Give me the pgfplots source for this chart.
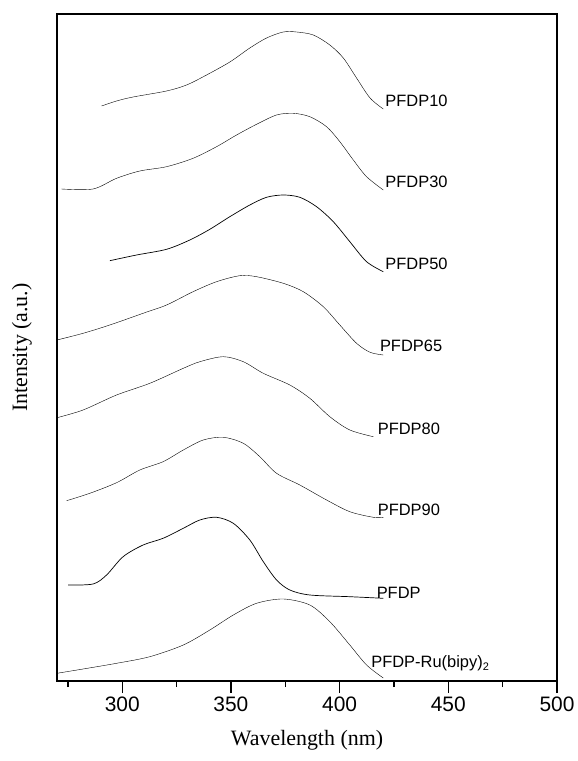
\documentclass[border=0pt]{standalone}
\usepackage{pgfplots}
\pgfplotsset{compat=1.18}
\usepackage{fontspec}
\setmainfont{Liberation Sans}
\newfontfamily\seriffont{Liberation Serif}
\tikzset{curvelabel/.style={anchor=base west, inner sep=0pt, font=\fontsize{16.5}{16.5}\selectfont}}
\begin{document}
\begin{tikzpicture}
\useasboundingbox (-57bp,-80bp) rectangle (521bp,681bp);
\begin{axis}[
  at={(0,0)}, anchor=south west,
  width=500bp, height=667bp, scale only axis,
  xmin=270, xmax=500, ymin=0, ymax=667,
  axis line style={line width=1.4bp},
  xtick={300,350,400,450,500},
  minor xtick={275,325,375,425,475},
  xtick pos=bottom, ytick=\empty,
  tick align=outside,
  major tick length=12bp, minor tick length=6bp,
  major tick style={line width=1.4bp, black},
  minor tick style={line width=1.4bp, black},
  /pgf/number format/assume math mode=true,
  xticklabel style={font=\fontsize{21}{21}\selectfont},
  xlabel={Wavelength (nm)}, ylabel={Intensity (a.u.)},
  xlabel style={font=\seriffont\fontsize{22}{22}\selectfont, at={(axis description cs:0.5,-0.0885)}, anchor=center},
  ylabel style={font=\seriffont\fontsize{22}{22}\selectfont, at={(axis description cs:-0.07,0.5)}, anchor=center},
  cycle list={{black,solid,line width=0.7bp,no marks}},
  every axis plot/.append style={smooth},
  clip=false,
]
% PFDP10
\addplot+[smooth] coordinates {(290.5,575) (297.4,580) (305.0,584) (320.4,590) (329.6,596) (338.8,606) (349.5,619) (358.7,633) (366.4,643) (374.1,649) (380.2,649) (387.9,646) (395.5,636) (401.7,623) (407.8,603) (414.0,583) (420.1,572)};
% PFDP30
\addplot+[smooth] coordinates {(272,492) (286.6,492) (297.4,502.7) (308.1,510) (320.4,514.3) (332.6,522.7) (343.4,534.3) (352.6,546) (361.8,556.7) (371.0,566) (378.7,567.7) (386.3,564.3) (394.0,554.3) (400.1,539.3) (406.3,521) (412.4,504.3) (420.1,491)};
% PFDP50
\addplot+[smooth] coordinates {(294.3,420.3) (306.6,426) (320.4,431.7) (331.1,441) (340.3,451.7) (349.5,464.3) (358.7,476) (366.4,483.7) (374.1,486) (381.7,483.7) (389.4,474.3) (397.1,459.3) (404.7,439.3) (412.4,419.3) (420.1,409.3)};
% PFDP65
\addplot+[smooth] coordinates {(270,341) (282.0,347.7) (294.3,356) (309.6,367.7) (320.4,376) (332.6,389.3) (343.4,399.3) (354.1,405.3) (361.8,404.3) (374.1,397.7) (383.3,389.3) (392.5,374.3) (400.1,356) (407.8,337.7) (414.0,328.7) (420.1,326)};
% PFDP80
\addplot+[smooth] coordinates {(270,263.3) (282.0,271) (297.4,286) (312.7,297.7) (328.1,312.7) (335.7,319.3) (346.5,324.3) (355.7,319.3) (364.9,307.7) (377.1,296) (386.3,282.7) (395.5,264.3) (404.7,251) (415.5,244.3)};
% PFDP90
\addplot+[smooth] coordinates {(274.4,180.3) (285.1,187.7) (297.4,198.3) (308.1,211) (318.8,219.3) (328.1,231) (337.3,241) (346.5,243.7) (355.7,237.7) (363.3,224.3) (371.0,207.7) (381.7,196) (394.0,181) (404.7,169.3) (415.5,163.7) (420.1,163.7)};
% PFDP
\addplot+[smooth] coordinates {(275.1,96) (286.6,97) (292.8,106) (300.4,124.3) (309.6,136) (318.8,142.7) (328.1,152.7) (335.7,161) (343.4,163.7) (351.1,157.7) (358.7,141) (364.9,119.3) (371.0,101) (377.1,91) (386.3,86) (404.7,84.3) (420.1,82.7)};
% PFDP-Ru(bipy)2
\addplot+[smooth] coordinates {(270,7.7) (282.0,12) (297.4,17.7) (312.7,24.3) (328.1,36) (340.3,51) (351.1,66) (361.8,77.7) (374.1,82) (386.3,76) (395.5,59.3) (404.7,36) (412.4,16) (420.1,3)};
\node[curvelabel] at (axis cs:421,574) {PFDP10};
\node[curvelabel] at (axis cs:421,493) {PFDP30};
\node[curvelabel] at (axis cs:421,411) {PFDP50};
\node[curvelabel] at (axis cs:418.5,329) {PFDP65};
\node[curvelabel] at (axis cs:417.5,246) {PFDP80};
\node[curvelabel] at (axis cs:417.5,165) {PFDP90};
\node[curvelabel] at (axis cs:417,83) {PFDP};
\node[curvelabel] at (axis cs:414.5,14) {PFDP-Ru(bipy)\raisebox{-0.4ex}{\fontsize{11}{11}\selectfont 2}};
\end{axis}
\end{tikzpicture}
\end{document}
